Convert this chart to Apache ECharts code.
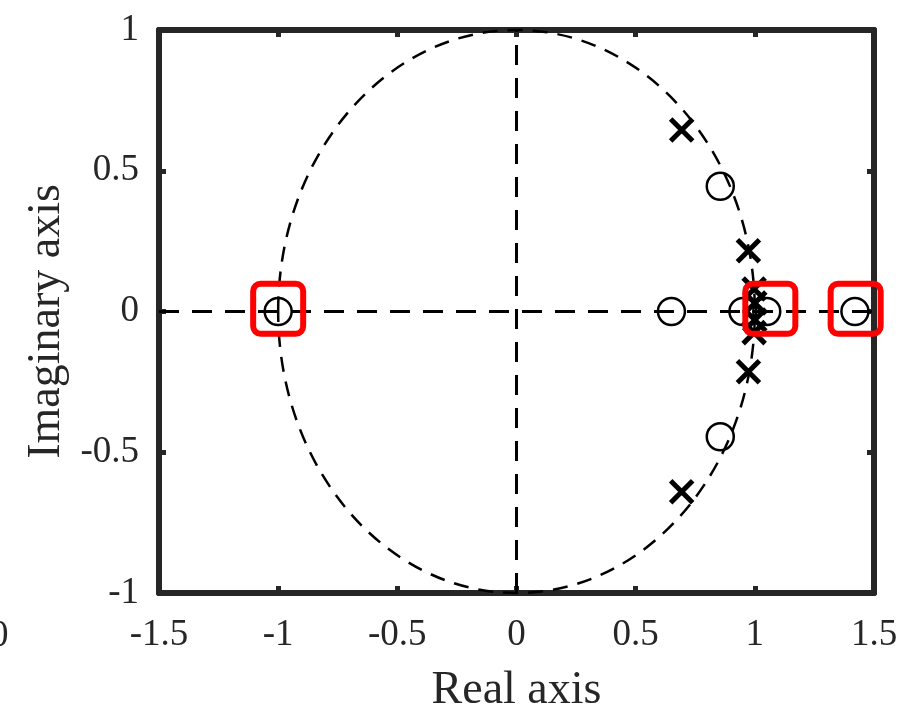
<!DOCTYPE html>
<html>
<head>
<meta charset="utf-8">
<title>Pole-zero map</title>
<script src="https://cdn.jsdelivr.net/npm/echarts@6/dist/echarts.min.js"></script>
<style>
  html, body { margin: 0; padding: 0; background: #fff; }
  #main { width: 903px; height: 713px; }
</style>
</head>
<body>
<div id="main"></div>
<script>
// axis ranges (tick step 0.5)
const xRange = [-1.5, 1.5]
const yRange = [-1, 1]
const tickStep = 0.5

// zeros (o) and poles (x), as [real, imag]
const zeros = [
  [-1, 0], [0.65, 0], [0.95, 0], [1.05, 0], [1.42, 0],
  [0.855, 0.445], [0.855, -0.445],
]
const poles = [
  [0.693, 0.645], [0.693, -0.64],
  [0.973, 0.216], [0.973, -0.214],
  [0.997, 0.08], [0.997, -0.075],
  [1.0, 0.03], [1.0, -0.03],
]
// red boxes around highlighted zeros
const marked = [[-1, 0.01], [1.065, 0.01], [1.423, 0.01]]

// reference lines: real / imaginary axes and unit circle
const realLine = [[-1.5, 0], [1.5, 0]]
const imagLine = [[0, -1], [0, 1]]
const unitCircle = [[0, 0, 1]]

const FONT = "'Liberation Serif', 'Times New Roman', serif"
const INK = '#262626'

const chart = echarts.init(document.getElementById('main'))

const frameAxis = {
  type: 'value',
  axisLine: { show: true, onZero: false, lineStyle: { color: INK, width: 6 } },
  axisTick: { show: true, inside: true, length: 7, lineStyle: { color: INK, width: 5 } },
  splitLine: { show: false },
}

chart.setOption({
  animation: false,
  grid: { left: 159, right: 29, top: 30, bottom: 120, containLabel: false, outerBoundsMode: 'none' },
  xAxis: [
    {
      ...frameAxis,
      position: 'bottom',
      min: xRange[0], max: xRange[1], interval: tickStep,
      axisLabel: { color: INK, fontFamily: FONT, fontSize: 37, margin: 24 },
      name: 'Real axis',
      nameLocation: 'middle',
      nameGap: 75,
      nameTextStyle: { color: INK, fontFamily: FONT, fontSize: 46 },
    },
    {
      ...frameAxis,
      position: 'top',
      min: xRange[0], max: xRange[1], interval: tickStep,
      axisLabel: { show: false },
    },
  ],
  yAxis: [
    {
      ...frameAxis,
      position: 'left',
      min: yRange[0], max: yRange[1], interval: tickStep,
      axisLabel: { color: INK, fontFamily: FONT, fontSize: 37, margin: 20 },
      name: 'Imaginary axis',
      nameLocation: 'middle',
      nameGap: 86,
      nameTextStyle: { color: INK, fontFamily: FONT, fontSize: 46, padding: [0, 20, 0, 0] },
    },
    {
      ...frameAxis,
      position: 'right',
      min: yRange[0], max: yRange[1], interval: tickStep,
      axisLabel: { show: false },
    },
  ],
  graphic: [
    // stray clipped tick label at the far left edge
    {
      type: 'text', left: -10, top: 618,
      style: { text: '0', fill: INK, font: `37px ${FONT}` },
    },
  ],
  series: [
    {
      type: 'custom',
      data: unitCircle,
      silent: true,
      z: 1,
      renderItem(params, api) {
        const c = api.coord([api.value(0), api.value(1)])
        const s = api.size([api.value(2), api.value(2)])
        return {
          type: 'ellipse',
          shape: { cx: c[0], cy: c[1], rx: s[0], ry: s[1] },
          style: { fill: 'none', stroke: '#000', lineWidth: 2.5, lineDash: [15, 10] },
        }
      },
    },
    {
      type: 'line', data: realLine, symbol: 'none', silent: true, z: 1,
      lineStyle: { color: '#000', width: 3, type: [20, 13] },
    },
    {
      type: 'line', data: imagLine, symbol: 'none', silent: true, z: 1,
      lineStyle: { color: '#000', width: 3, type: [20, 13] },
    },
    {
      type: 'scatter', data: zeros, symbol: 'circle', symbolSize: 27, z: 3,
      itemStyle: { color: 'transparent', borderColor: '#000', borderWidth: 2.5, opacity: 1 },
    },
    {
      type: 'scatter', data: poles, symbol: 'path://M0,0L10,10M10,0L0,10', symbolSize: 22, z: 4,
      itemStyle: { color: 'transparent', borderColor: '#000', borderWidth: 5, opacity: 1 },
    },
    {
      type: 'scatter', data: marked, z: 5,
      symbol: 'path://M8,0H46A8,8 0 0 1 54,8V46A8,8 0 0 1 46,54H8A8,8 0 0 1 0,46V8A8,8 0 0 1 8,0Z',
      symbolSize: 50,
      itemStyle: { color: 'transparent', borderColor: '#ff0000', borderWidth: 6, opacity: 1 },
    },
  ],
})
</script>
</body>
</html>
